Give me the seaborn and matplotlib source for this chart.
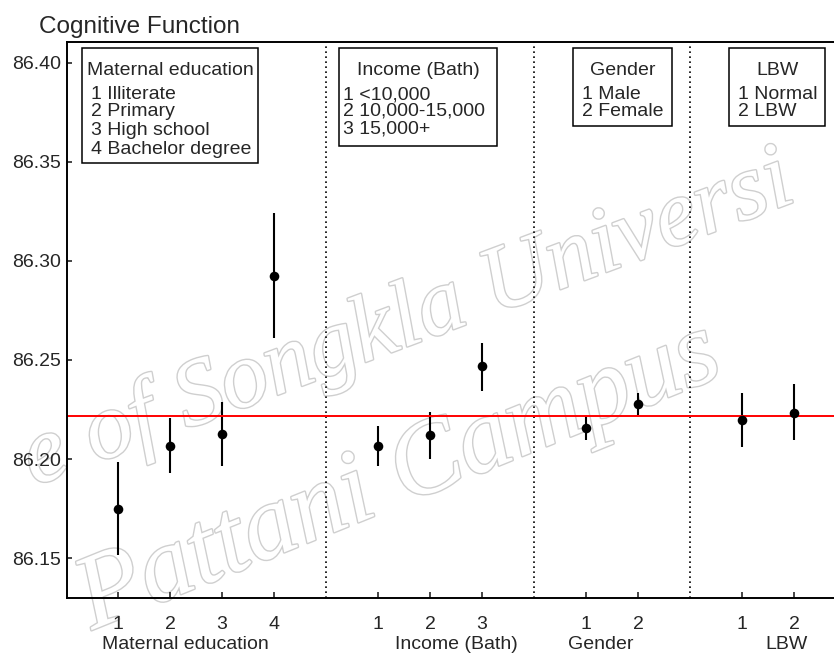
import numpy as np
import pandas as pd
import matplotlib
matplotlib.use("Agg")
import matplotlib.pyplot as plt
import matplotlib.transforms as mtransforms
import matplotlib.patheffects as pe
from matplotlib.patches import Rectangle
import seaborn as sns

# ---------------- data ----------------
group_names = ["Maternal education", "Income (Bath)", "Gender", "LBW"]

edu_levels = ["1", "2", "3", "4"]
edu_mean = [86.1750, 86.2067, 86.2126, 86.2924]
edu_low = [86.1515, 86.1931, 86.1966, 86.2610]
edu_high = [86.1986, 86.2206, 86.2289, 86.3244]

inc_levels = ["1", "2", "3"]
inc_mean = [86.2067, 86.2121, 86.2468]
inc_low = [86.1966, 86.1998, 86.2345]
inc_high = [86.2168, 86.2236, 86.2587]

gen_levels = ["1", "2"]
gen_mean = [86.2158, 86.2278]
gen_low = [86.2096, 86.2222]
gen_high = [86.2219, 86.2332]

lbw_levels = ["1", "2"]
lbw_mean = [86.2196, 86.2232]
lbw_low = [86.2059, 86.2096]
lbw_high = [86.2335, 86.2379]

grand_mean = 86.2219
y_ticks = [86.15, 86.20, 86.25, 86.30, 86.35, 86.40]

title_text = "Cognitive Function"
legend_headers = ["Maternal education", "Income (Bath)", "Gender", "LBW"]
legend_lines = [
    ["1 Illiterate", "2 Primary", "3 High school", "4 Bachelor degree"],
    ["1 <10,000", "2 10,000-15,000", "3 15,000+"],
    ["1 Male", "2 Female"],
    ["1 Normal", "2 LBW"],
]
watermark1 = "e of Songkla Universi"
watermark2 = "Pattani Campus"

# ---------------- table ----------------
groups = [
    (edu_levels, edu_mean, edu_low, edu_high),
    (inc_levels, inc_mean, inc_low, inc_high),
    (gen_levels, gen_mean, gen_low, gen_high),
    (lbw_levels, lbw_mean, lbw_low, lbw_high),
]
rows = []
separators = []
pos = 1
for gname, (lv, m, lo, hi) in zip(group_names, groups):
    for l, mm, a, b in zip(lv, m, lo, hi):
        rows.append(dict(group=gname, level=l, x=pos, mean=mm, low=a, high=b))
        pos += 1
    separators.append(pos)
    pos += 1
separators = separators[:-1]
df = pd.DataFrame(rows)

# ---------------- style ----------------
sns.set_style("ticks")
plt.rcParams["font.family"] = ["Liberation Sans", "DejaVu Sans"]
plt.rcParams["font.size"] = 14

W, H = 834, 655
fig = plt.figure(figsize=(W / 100, H / 100), dpi=100)
fig.patch.set_facecolor("white")

def fx(px):
    return px / W

def fy(py):
    return 1 - py / H

ax_left, ax_right, ax_top, ax_bottom = 67, 834, 42, 598
ax = fig.add_axes([fx(ax_left), fy(ax_bottom), fx(ax_right - ax_left), (ax_bottom - ax_top) / H])
ax.set_facecolor("none")

# error bars
ax.vlines(df["x"], df["low"], df["high"], color="black", lw=1.5, zorder=2)
# grand mean line
ax.axhline(grand_mean, color="#ff0000", lw=1.4, zorder=2.5)
# points
sns.scatterplot(data=df, x="x", y="mean", color="black", s=48, linewidth=0,
                ax=ax, zorder=3, legend=False)
# separators
for s in separators:
    ax.axvline(s, color="black", lw=1.2, ls=(0, (1, 2)), zorder=1)

ax.set_xlim(0.02, 14.77)
ax.set_ylim(86.1298, 86.4106)
ax.set_yticks(y_ticks)
ax.set_yticklabels([f"{v:.2f}" for v in y_ticks])
ax.set_xticks(df["x"])
ax.set_xticklabels(df["level"])
ax.set_xlabel("")
ax.set_ylabel("")
ax.tick_params(axis="x", direction="in", length=4.5, width=1.2, pad=13, labelsize=14)
ax.tick_params(axis="y", direction="in", length=3.5, width=1.2, pad=4, labelsize=14)
for side in ["left", "bottom", "top"]:
    ax.spines[side].set_linewidth(1.4)
    ax.spines[side].set_color("black")
ax.spines["right"].set_visible(False)

# group labels under the axis
group_label_x = [2.30, 7.5, 10.29, 13.85]
trans = mtransforms.blended_transform_factory(ax.transData, fig.transFigure)
for gx, name in zip(group_label_x, group_names):
    ax.text(gx, fy(649), name, transform=trans, ha="center", va="baseline",
            fontsize=14, clip_on=False)

# title
fig.text(fx(39), fy(33), title_text, fontsize=17.5, ha="left", va="baseline")

# legend boxes (pixel layout)
boxes = [(82, 48, 258, 163), (339, 48, 497, 146), (573, 48, 672, 126), (729, 48, 825, 126)]
header_x = [170, 418, 623, 777]
line_x = [91, 343, 582, 738]
header_y = 75
line_y = [99, 116, 135, 154]
for (x0, y0, x1, y1), hx, lx, head, lines in zip(boxes, header_x, line_x, legend_headers, legend_lines):
    rect = Rectangle((fx(x0), fy(y1)), fx(x1 - x0), (y1 - y0) / H, transform=fig.transFigure,
                     facecolor="white", edgecolor="black", lw=1.1, zorder=5)
    fig.patches.append(rect)
    fig.text(fx(hx), fy(header_y), head, ha="center", va="baseline", fontsize=14, zorder=6)
    if len(lines) == 4:
        ys = line_y
    else:
        ys = [99, 116, 133]
    for t, yy in zip(lines, ys):
        fig.text(fx(lx), fy(yy), t, ha="left", va="baseline", fontsize=14, zorder=6)

# faint outlined watermark behind the data
wm_effect = [pe.withStroke(linewidth=2.0, foreground="#cfcfcf")]
fig.text(fx(34), fy(486), watermark1, rotation=20.5, rotation_mode="anchor",
         ha="left", va="baseline", fontsize=68, color="white", style="italic",
         family="Liberation Serif", path_effects=wm_effect, zorder=-1)
fig.text(fx(92), fy(630), watermark2, rotation=22, rotation_mode="anchor",
         ha="left", va="baseline", fontsize=76, color="white", style="italic",
         family="Liberation Serif", path_effects=wm_effect, zorder=-1)

fig.savefig("out.png", dpi=100, facecolor="white")
